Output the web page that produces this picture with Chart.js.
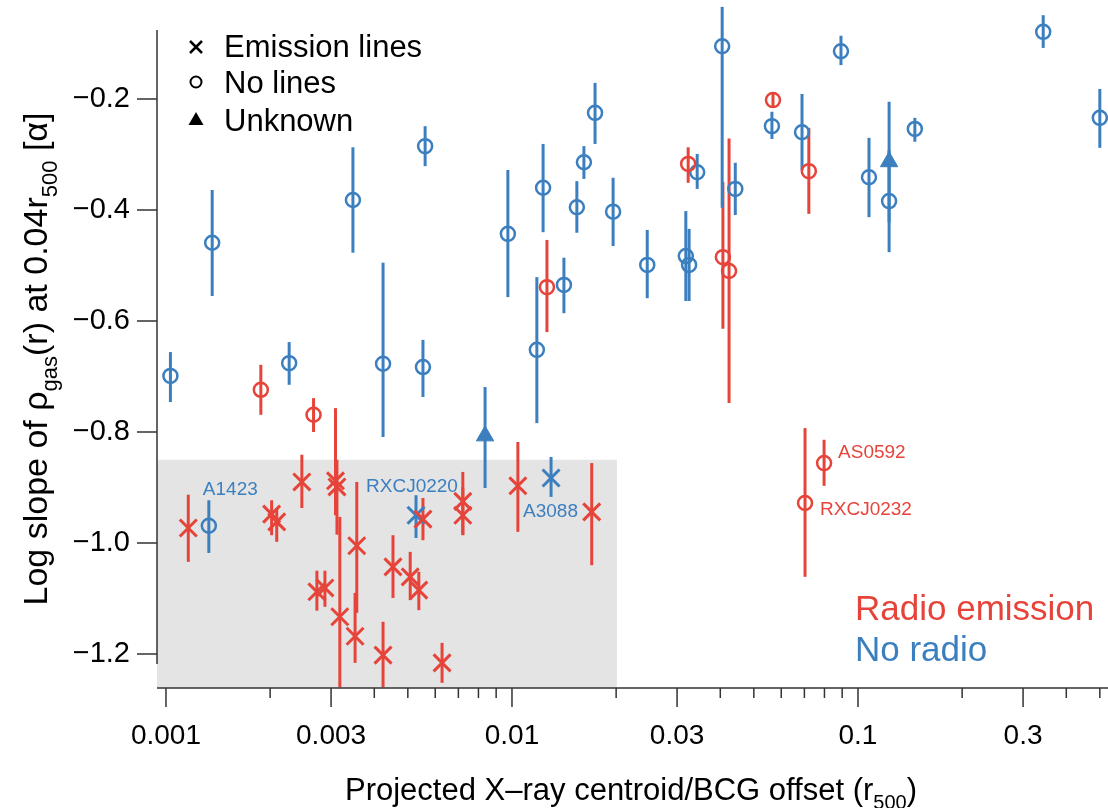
<!DOCTYPE html>
<html><head><meta charset="utf-8">
<script src="https://cdn.jsdelivr.net/npm/chart.js@4.4.1/dist/chart.umd.min.js"></script>
<style>html,body{margin:0;padding:0;background:#fff;}canvas{display:block;}</style>
</head><body>
<canvas id="c" width="1108" height="808"></canvas>
<script>
// ---------- DATA ----------
// Radio emission + emission lines (red crosses)
const radioLinesX  = [0.00116,0.00202,0.00209,0.00247,0.00309,0.00312,0.00318,0.00273,0.00288,0.00356,0.00352,0.00424,0.00453,0.00508,0.00538,0.00553,0.00628,0.00721,0.00721,0.0104,0.0170];
const radioLinesY  = [-0.973,-0.948,-0.962,-0.890,-0.888,-0.899,-1.133,-1.088,-1.081,-1.005,-1.168,-1.202,-1.043,-1.061,-1.085,-0.957,-1.216,-0.925,-0.950,-0.897,-0.944];
const radioLinesLo = [-1.034,-0.986,-0.998,-0.937,-0.950,-0.985,-1.260,-1.122,-1.115,-1.126,-1.216,-1.260,-1.099,-1.103,-1.121,-0.995,-1.252,-0.985,-0.986,-0.980,-1.040];
const radioLinesHi = [-0.913,-0.923,-0.937,-0.841,-0.757,-0.850,-0.953,-1.050,-1.050,-0.890,-1.090,-1.142,-0.986,-1.016,-1.052,-0.919,-1.180,-0.872,-0.900,-0.818,-0.856];

// Radio emission + no lines (red circles)
const radioNoLinesX  = [0.00188,0.00267,0.01262,0.0323,0.0407,0.0424,0.0568,0.0721,0.0798,0.0703];
const radioNoLinesY  = [-0.724,-0.769,-0.539,-0.317,-0.485,-0.510,-0.202,-0.330,-0.856,-0.928];
const radioNoLinesLo = [-0.769,-0.800,-0.620,-0.351,-0.614,-0.748,-0.215,-0.407,-0.897,-1.061];
const radioNoLinesHi = [-0.679,-0.739,-0.454,-0.287,-0.350,-0.271,-0.190,-0.252,-0.814,-0.793];

// No radio + no lines (blue circles)
const noRadioNoLinesX  = [0.00103,0.00136,0.00227,0.00347,0.00561,0.00424,0.00553,0.00973,0.0123,0.01614,0.0154,0.01738,0.0196,0.0246,0.0318,0.0325,0.0343,0.0405,0.0442,0.0564,0.0689,0.0893,0.1076,0.123,0.146,0.343,0.500,0.0118,0.01413,0.00133];
const noRadioNoLinesY  = [-0.699,-0.459,-0.676,-0.382,-0.285,-0.677,-0.683,-0.443,-0.360,-0.314,-0.395,-0.225,-0.403,-0.499,-0.483,-0.499,-0.332,-0.105,-0.362,-0.249,-0.260,-0.114,-0.341,-0.384,-0.254,-0.079,-0.234,-0.652,-0.535,-0.969];
const noRadioNoLinesLo = [-0.746,-0.555,-0.715,-0.477,-0.321,-0.809,-0.737,-0.557,-0.440,-0.344,-0.441,-0.281,-0.465,-0.559,-0.564,-0.564,-0.362,-0.396,-0.409,-0.272,-0.328,-0.139,-0.413,-0.476,-0.277,-0.108,-0.288,-0.784,-0.586,-1.018];
const noRadioNoLinesHi = [-0.656,-0.364,-0.638,-0.287,-0.249,-0.495,-0.634,-0.328,-0.281,-0.285,-0.348,-0.171,-0.342,-0.436,-0.402,-0.434,-0.299,-0.034,-0.315,-0.223,-0.191,-0.086,-0.270,-0.292,-0.234,-0.049,-0.182,-0.521,-0.486,-0.923];

// No radio + emission lines (blue crosses)
const noRadioLinesX  = [0.00528,0.01297];
const noRadioLinesY  = [-0.950,-0.883];
const noRadioLinesLo = [-0.991,-0.917];
const noRadioLinesHi = [-0.914,-0.845];

// No radio + unknown (blue triangles)
const noRadioUnknownX  = [0.00836,0.123];
const noRadioUnknownY  = [-0.807,-0.313];
const noRadioUnknownLo = [-0.901,-0.422];
const noRadioUnknownHi = [-0.719,-0.205];

// Named clusters
const clusterNames = ['A1423','RXCJ0220','A3088','AS0592','RXCJ0232'];
const clusterX     = [0.00133,0.00528,0.01297,0.0798,0.0703];
const clusterY     = [-0.969,-0.950,-0.883,-0.856,-0.928];
const clusterGroup = ['blue','blue','blue','red','red'];

// Axes
const xTickValues = [0.001,0.003,0.01,0.03,0.1,0.3];
const xTickLabels = ['0.001','0.003','0.01','0.03','0.1','0.3'];
const xMinorTicks = [0.002,0.004,0.005,0.006,0.007,0.008,0.009,0.02,0.04,0.05,0.06,0.07,0.08,0.09,0.2,0.4,0.5];
const yTickValues = [-0.2,-0.4,-0.6,-0.8,-1.0,-1.2];
const yTickLabels = ['\u22120.2','\u22120.4','\u22120.6','\u22120.8','\u22121.0','\u22121.2'];
const xRange = [0.000942, 0.5175];
const yRange = [-1.2613, -0.0757];
const shadeX = [0.000942, 0.0201];
const shadeY = [-1.2613, -0.850];

// ---------- STYLE ----------
const RED = '#e6443a', BLUE = '#3b7fbf', GRAY = '#e4e4e4', AXIS = '#333';
const FONT = "'Liberation Sans', Arial, Helvetica, sans-serif";

function pts(xs, ys){ return xs.map((x,i)=>({x:x, y:ys[i]})); }

function drawRich(ctx, parts, x, y, size, align){
  let total = 0;
  const widths = parts.map(p=>{ ctx.font = (p[1]? Math.round(size*0.66):size)+'px '+FONT; const w = ctx.measureText(p[0]).width; total += w; return w; });
  let cx = align==='center' ? x - total/2 : x;
  parts.forEach((p,i)=>{
    ctx.font = (p[1]? Math.round(size*0.66):size)+'px '+FONT;
    ctx.fillText(p[0], cx, y + (p[1]? size*0.28 : 0));
    cx += widths[i];
  });
}

const overlay = {
  id:'overlay',
  beforeDatasetsDraw(chart){
    const {ctx, scales:{x,y}} = chart;
    ctx.save();
    const x0 = x.getPixelForValue(shadeX[0]), x1 = x.getPixelForValue(shadeX[1]);
    const y0 = y.getPixelForValue(shadeY[1]), y1 = y.getPixelForValue(shadeY[0]);
    ctx.fillStyle = GRAY;
    ctx.fillRect(x0, y0, x1-x0, y1-y0);
    ctx.lineWidth = 3; ctx.lineCap = 'butt';
    chart.data.datasets.forEach(ds=>{
      ctx.strokeStyle = ds.borderColor;
      ds.data.forEach((p,j)=>{
        const px = x.getPixelForValue(p.x);
        ctx.beginPath();
        ctx.moveTo(px, y.getPixelForValue(ds.errLo[j]));
        ctx.lineTo(px, y.getPixelForValue(ds.errHi[j]));
        ctx.stroke();
      });
    });
    ctx.restore();
  },
  afterDraw(chart){
    const {ctx, chartArea:ca, scales:{x,y}} = chart;
    ctx.save();
    ctx.strokeStyle = AXIS; ctx.lineWidth = 1.5;
    ctx.beginPath();
    ctx.moveTo(ca.left, ca.top); ctx.lineTo(ca.left, y.getPixelForValue(yTickValues[yTickValues.length-1]) + 10);
    ctx.moveTo(ca.left, ca.bottom); ctx.lineTo(chart.width, ca.bottom);
    yTickValues.forEach(v=>{ const py = y.getPixelForValue(v); ctx.moveTo(ca.left-20, py); ctx.lineTo(ca.left, py); });
    xTickValues.forEach(v=>{ const px = x.getPixelForValue(v); ctx.moveTo(px, ca.bottom); ctx.lineTo(px, ca.bottom+19); });
    xMinorTicks.forEach(v=>{ const px = x.getPixelForValue(v); ctx.moveTo(px, ca.bottom); ctx.lineTo(px, ca.bottom+10); });
    ctx.stroke();

    ctx.fillStyle = '#000'; ctx.textBaseline = 'alphabetic'; ctx.textAlign = 'left';
    drawRich(ctx, [['Projected X\u2013ray centroid/BCG offset (r',0],['500',1],[')',0]], (ca.left+ca.right)/2, 800, 31, 'center');
    ctx.save();
    ctx.translate(47, (ca.top+ca.bottom)/2);
    ctx.rotate(-Math.PI/2);
    drawRich(ctx, [['Log slope of \u03c1',0],['gas',1],['(r) at 0.04r',0],['500',1],[' [\u03b1]',0]], 0, 0, 34, 'center');
    ctx.restore();

    const lx = 196;
    ctx.strokeStyle = '#000'; ctx.fillStyle = '#000'; ctx.lineWidth = 2.5;
    ctx.beginPath(); ctx.moveTo(lx-6,41); ctx.lineTo(lx+6,53); ctx.moveTo(lx+6,41); ctx.lineTo(lx-6,53); ctx.stroke();
    ctx.lineWidth = 2; ctx.beginPath(); ctx.arc(lx, 82, 5.5, 0, Math.PI*2); ctx.stroke();
    ctx.beginPath(); ctx.moveTo(lx, 112); ctx.lineTo(lx+7.5, 125); ctx.lineTo(lx-7.5, 125); ctx.closePath(); ctx.fill();
    ctx.font = '31px '+FONT;
    ctx.fillText('Emission lines', 224, 57);
    ctx.fillText('No lines', 224, 93);
    ctx.fillText('Unknown', 224, 131);

    ctx.font = '35px '+FONT;
    ctx.fillStyle = RED; ctx.fillText('Radio emission', 855, 620);
    ctx.fillStyle = BLUE; ctx.fillText('No radio', 855, 661);

    const off = {A1423:[-6,-31], RXCJ0220:[-50,-23], A3088:[-28,39], AS0592:[14,-5], RXCJ0232:[15,12]};
    ctx.font = '19px '+FONT;
    clusterNames.forEach((n,i)=>{
      ctx.fillStyle = clusterGroup[i]==='red' ? RED : BLUE;
      ctx.fillText(n, x.getPixelForValue(clusterX[i]) + off[n][0], y.getPixelForValue(clusterY[i]) + off[n][1]);
    });
    ctx.restore();
  }
};

const circleStyle = {pointStyle:'circle', pointRadius:7, pointBorderWidth:2.5, pointBackgroundColor:'rgba(0,0,0,0)'};
const crossStyle = {pointStyle:'crossRot', pointRadius:12, pointBorderWidth:3};

new Chart(document.getElementById('c'), {
  type:'scatter',
  data:{datasets:[
    Object.assign({label:'Radio, emission lines', data:pts(radioLinesX,radioLinesY), errLo:radioLinesLo, errHi:radioLinesHi, borderColor:RED, pointBorderColor:RED, clip:false}, crossStyle),
    Object.assign({label:'Radio, no lines', data:pts(radioNoLinesX,radioNoLinesY), errLo:radioNoLinesLo, errHi:radioNoLinesHi, borderColor:RED, pointBorderColor:RED, clip:false}, circleStyle),
    Object.assign({label:'No radio, no lines', data:pts(noRadioNoLinesX,noRadioNoLinesY), errLo:noRadioNoLinesLo, errHi:noRadioNoLinesHi, borderColor:BLUE, pointBorderColor:BLUE, clip:false}, circleStyle),
    Object.assign({label:'No radio, emission lines', data:pts(noRadioLinesX,noRadioLinesY), errLo:noRadioLinesLo, errHi:noRadioLinesHi, borderColor:BLUE, pointBorderColor:BLUE, clip:false}, crossStyle),
    {label:'No radio, unknown', data:pts(noRadioUnknownX,noRadioUnknownY), errLo:noRadioUnknownLo, errHi:noRadioUnknownHi, borderColor:BLUE, pointBorderColor:BLUE, pointBackgroundColor:BLUE, pointStyle:'triangle', pointRadius:10, pointBorderWidth:1, clip:false}
  ]},
  options:{
    responsive:false, animation:false, events:[],
    layout:{autoPadding:false, padding:{top:30,right:3,left:0,bottom:0}},
    plugins:{legend:{display:false}, tooltip:{enabled:false}},
    scales:{
      x:{type:'logarithmic', bounds:'data', min:xRange[0], max:xRange[1], border:{display:false},
         grid:{display:false, drawTicks:false},
         afterBuildTicks:s=>{ s.ticks = xTickValues.map(v=>({value:v})); },
         afterFit:s=>{ s.height = 120; s.paddingLeft = 0; s.paddingRight = 0; },
         ticks:{autoSkip:false, maxRotation:0, padding:31, color:'#000', font:{family:FONT, size:28}, callback:(v,i)=>xTickLabels[i]}},
      y:{type:'linear', bounds:'data', min:yRange[0], max:yRange[1], border:{display:false},
         grid:{display:false, drawTicks:false},
         afterBuildTicks:s=>{ s.ticks = yTickValues.map(v=>({value:v})); },
         afterFit:s=>{ s.width = 157; s.paddingTop = 0; s.paddingBottom = 0; },
         ticks:{autoSkip:false, padding:27, color:'#000', font:{family:FONT, size:29}, callback:(v,i)=>yTickLabels[i]}}
    }
  },
  plugins:[overlay]
});
</script>
</body></html>
